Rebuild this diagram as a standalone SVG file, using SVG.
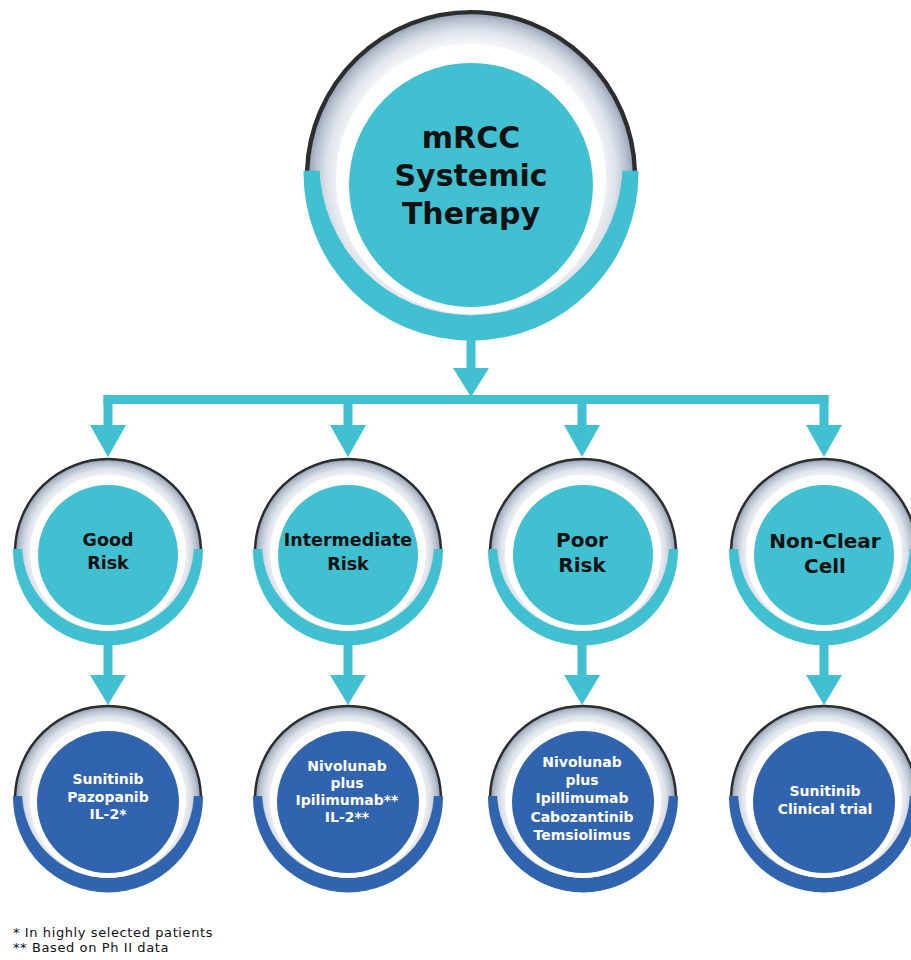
<svg xmlns="http://www.w3.org/2000/svg" xmlns:xlink="http://www.w3.org/1999/xlink" width="911" height="960" viewBox="0 0 911 960">
<style>
.t{font-family:"DejaVu Sans","Liberation Sans",sans-serif;font-weight:bold;text-anchor:middle}
.dk{fill:#111}
.wh{fill:#fff}
.teal{fill:#41C0D2}
.blue{fill:#3064AE}
.fn{font-family:"DejaVu Sans","Liberation Sans",sans-serif;font-size:13px;fill:#111;letter-spacing:0.6px}
</style>
<defs>
<radialGradient id="ring" gradientUnits="userSpaceOnUse" cx="0" cy="0" r="93" fx="0" fy="-6">
<stop offset="0.8" stop-color="#f3f5f8"/>
<stop offset="0.88" stop-color="#dfe4eb"/>
<stop offset="0.95" stop-color="#b7c1cf"/>
<stop offset="1" stop-color="#8d9ab0"/>
</radialGradient>
<g id="outerTeal">
<circle r="93" fill="url(#ring)"/>
<path d="M -94.99 -3 A 95 95 0 1 0 94.99 -3 Z" fill="#41C0D2"/>
<circle cy="-7" r="86" fill="url(#ring)"/>
<path d="M -92.95 -3 A 93 93 0 0 1 92.95 -3" fill="none" stroke="#2d2d2d" stroke-width="2.5"/>
</g>
<g id="outerBlue">
<circle r="93" fill="url(#ring)"/>
<path d="M -94.99 -3 A 95 95 0 1 0 94.99 -3 Z" fill="#3064AE"/>
<circle cy="-7" r="86" fill="url(#ring)"/>
<path d="M -92.95 -3 A 93 93 0 0 1 92.95 -3" fill="none" stroke="#2d2d2d" stroke-width="2.5"/>
</g>
</defs>
<rect width="911" height="960" fill="#fff"/>

<g id="connectors" fill="#41C0D2">
<rect x="466.5" y="330" width="9" height="40"/>
<polygon points="453,368 489,368 471,397"/>
<rect x="103.5" y="395" width="725" height="9"/>
<rect x="103.5" y="395" width="9" height="32"/>
<polygon points="90,425 126,425 108,457"/>
<rect x="343.5" y="395" width="9" height="32"/>
<polygon points="330,425 366,425 348,457"/>
<rect x="577.5" y="395" width="9" height="32"/>
<polygon points="564,425 600,425 582,457"/>
<rect x="819.5" y="395" width="9" height="32"/>
<polygon points="806,425 842,425 824,457"/>
<rect x="103.5" y="640" width="9" height="37"/>
<polygon points="90,675 126,675 108,705"/>
<rect x="343.5" y="640" width="9" height="37"/>
<polygon points="330,675 366,675 348,705"/>
<rect x="577.5" y="640" width="9" height="37"/>
<polygon points="564,675 600,675 582,705"/>
<rect x="819.5" y="640" width="9" height="37"/>
<polygon points="806,675 842,675 824,705"/>
</g>

<g id="mrcc">
<use xlink:href="#outerTeal" transform="translate(471,176) scale(1.763)"/>
<circle cx="471" cy="179" r="135" fill="#fff"/>
<circle cx="471" cy="185" r="122" class="teal"/>
<text class="t dk" font-size="30" x="471"><tspan x="471" y="148">mRCC</tspan><tspan x="471" y="186">Systemic</tspan><tspan x="471" y="224">Therapy</tspan></text>
</g>

<g id="good-risk">
<use xlink:href="#outerTeal" transform="translate(108,552)"/>
<circle cx="108" cy="553" r="78" fill="#fff"/>
<circle cx="108" cy="555" r="70" class="teal"/>
<text class="t dk" font-size="17.5"><tspan x="108" y="546">Good</tspan><tspan x="108" y="569">Risk</tspan></text>
</g>

<g id="intermediate-risk">
<use xlink:href="#outerTeal" transform="translate(348,552)"/>
<circle cx="348" cy="553" r="78" fill="#fff"/>
<circle cx="348" cy="555" r="70" class="teal"/>
<text class="t dk" font-size="17.5"><tspan x="348" y="546">Intermediate</tspan><tspan x="348" y="570">Risk</tspan></text>
</g>

<g id="poor-risk">
<use xlink:href="#outerTeal" transform="translate(583,552)"/>
<circle cx="583" cy="553" r="78" fill="#fff"/>
<circle cx="583" cy="555" r="70" class="teal"/>
<text class="t dk" font-size="20"><tspan x="582" y="547">Poor</tspan><tspan x="582" y="572">Risk</tspan></text>
</g>

<g id="non-clear-cell">
<use xlink:href="#outerTeal" transform="translate(824,552)"/>
<circle cx="824" cy="553" r="78" fill="#fff"/>
<circle cx="824" cy="555" r="70" class="teal"/>
<text class="t dk" font-size="20"><tspan x="825" y="548">Non-Clear</tspan><tspan x="825" y="573">Cell</tspan></text>
</g>

<g id="good-treatment">
<use xlink:href="#outerBlue" transform="translate(108,799)"/>
<circle cx="108" cy="800" r="78" fill="#fff"/>
<circle cx="108" cy="802" r="71" class="blue"/>
<text class="t wh" font-size="14"><tspan x="108" y="784">Sunitinib</tspan><tspan x="108" y="801.5">Pazopanib</tspan><tspan x="108" y="819">IL-2*</tspan></text>
</g>

<g id="intermediate-treatment">
<use xlink:href="#outerBlue" transform="translate(348,799)"/>
<circle cx="348" cy="800" r="78" fill="#fff"/>
<circle cx="348" cy="802" r="71" class="blue"/>
<text class="t wh" font-size="14"><tspan x="347" y="771">Nivolunab</tspan><tspan x="347" y="788">plus</tspan><tspan x="347" y="805">Ipilimumab**</tspan><tspan x="347" y="822">IL-2**</tspan></text>
</g>

<g id="poor-treatment">
<use xlink:href="#outerBlue" transform="translate(583,799)"/>
<circle cx="583" cy="800" r="78" fill="#fff"/>
<circle cx="583" cy="802" r="71" class="blue"/>
<text class="t wh" font-size="14"><tspan x="582" y="767">Nivolunab</tspan><tspan x="582" y="785">plus</tspan><tspan x="582" y="803">Ipillimumab</tspan><tspan x="582" y="821.5">Cabozantinib</tspan><tspan x="582" y="840">Temsiolimus</tspan></text>
</g>

<g id="non-clear-treatment">
<use xlink:href="#outerBlue" transform="translate(824,799)"/>
<circle cx="824" cy="800" r="78" fill="#fff"/>
<circle cx="824" cy="802" r="71" class="blue"/>
<text class="t wh" font-size="14"><tspan x="825" y="796">Sunitinib</tspan><tspan x="825" y="814">Clinical trial</tspan></text>
</g>

<g id="footnotes">
<text class="fn" x="13" y="937">* In highly selected patients</text>
<text class="fn" x="13" y="952">** Based on Ph II data</text>
</g>
</svg>
